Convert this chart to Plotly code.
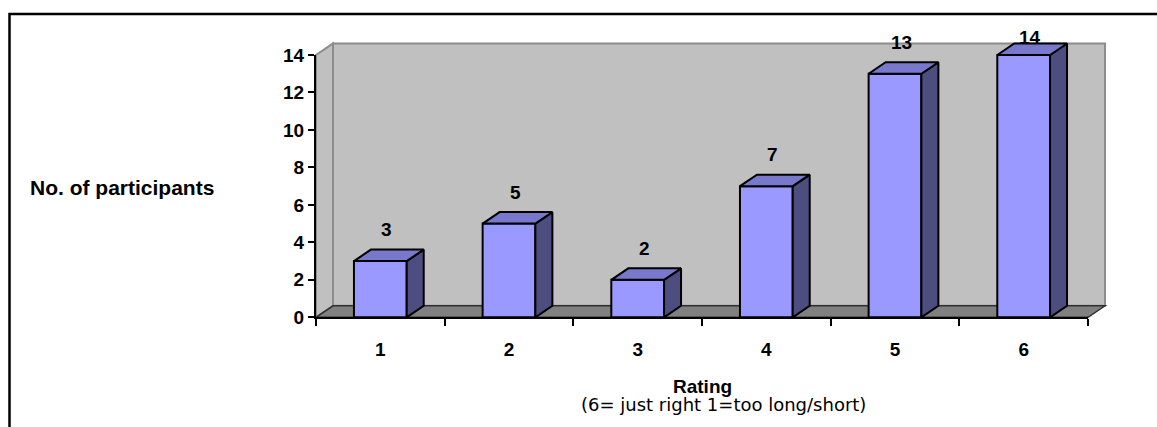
import plotly.graph_objects as go

# ---- data ----
ratings = ["1", "2", "3", "4", "5", "6"]
participants = [3, 5, 2, 7, 13, 14]
y_ticks = [0, 2, 4, 6, 8, 10, 12, 14]
y_max = 14

# ---- page geometry (pixels) ----
W, H = 1157, 427
LEFT, RIGHT = 316, 1088      # front edge of the floor
BASE, TOP = 317.3, 55        # value 0 and value y_max on the front axis
ux = (RIGHT - LEFT) / len(ratings)
uy = (BASE - TOP) / y_max
DX = 17 / ux                 # depth offset of the 3-D box, data units
DY = 11.5 / uy
BAR_W = 0.41

FRONT = "#9999FF"
TOPC = "#7878CC"
SIDE = "#4D4D80"
WALL = "#C0C0C0"
FLOOR = "#808080"
EDGE = "#8C8C8C"


def fx(px):
    return px / W


def fy(py):
    return (H - py) / H


# panel subplot: wide range so nothing touching the box is clipped
XA = [-0.4, 6.4]
YA = [-1.5, 16]
dom_xa = [fx(LEFT + XA[0] * ux), fx(LEFT + XA[1] * ux)]
dom_ya = [fy(BASE - YA[0] * uy), fy(BASE - YA[1] * uy)]

centers = [i + 0.5 for i in range(len(ratings))]

fig = go.Figure()

# front faces of the columns
fig.add_trace(go.Bar(
    x=centers, y=participants, width=BAR_W, base=0,
    marker=dict(color=FRONT, line=dict(color="black", width=2)),
    xaxis="x", yaxis="y", showlegend=False, hoverinfo="skip",
))

# side and top faces
for c, v in zip(centers, participants):
    l, r = c - BAR_W / 2, c + BAR_W / 2
    fig.add_trace(go.Scatter(
        x=[r, r + DX, r + DX, r, r], y=[0, DY, v + DY, v, 0],
        mode="lines", fill="toself", fillcolor=SIDE,
        line=dict(color="black", width=2),
        xaxis="x", yaxis="y", showlegend=False, hoverinfo="skip",
    ))
    fig.add_trace(go.Scatter(
        x=[l, r, r + DX, l + DX, l], y=[v, v, v + DY, v + DY, v],
        mode="lines", fill="toself", fillcolor=TOPC,
        line=dict(color="black", width=2),
        xaxis="x", yaxis="y", showlegend=False, hoverinfo="skip",
    ))

# axis frame subplot (front value and category axes)
fig.add_trace(go.Scatter(x=[], y=[], xaxis="x2", yaxis="y2",
                         showlegend=False, hoverinfo="skip"))

n = len(ratings)
shapes = [
    # back wall
    dict(type="path", xref="x", yref="y", layer="below",
         path=f"M {DX},{DY} L {n + DX},{DY} L {n + DX},{y_max + DY} L {DX},{y_max + DY} Z",
         fillcolor=WALL, line=dict(color=EDGE, width=2)),
    # side wall
    dict(type="path", xref="x", yref="y", layer="below",
         path=f"M 0,0 L 0,{y_max} L {DX},{y_max + DY} L {DX},{DY} Z",
         fillcolor=WALL, line=dict(color=EDGE, width=2)),
    # floor
    dict(type="path", xref="x", yref="y", layer="below",
         path=f"M 0,0 L {n},0 L {n + DX},{DY} L {DX},{DY} Z",
         fillcolor=FLOOR, line=dict(color="#303030", width=1.5)),
    # outer chart frame (open on the right and bottom)
    dict(type="path", xref="paper", yref="paper",
         path=f"M {fx(9.5)},0 L {fx(9.5)},{fy(14)} L 1,{fy(14)}",
         line=dict(color="black", width=2.5)),
]

FS = 19
bold = dict(family="Liberation Sans, Arial, sans-serif", size=FS,
            color="black", weight="bold")

annotations = []
label_cap = 14.95
for c, v in zip(centers, participants):
    annotations.append(dict(
        x=c + 0.05, y=min(v + DY + 20 / uy, label_cap), xref="x", yref="y",
        text=str(v), showarrow=False, font=bold,
        xanchor="center", yanchor="middle",
    ))

annotations += [
    dict(x=fx(28), y=fy(187), xref="paper", yref="paper",
         text="No. of participants", showarrow=False,
         font=dict(bold, size=21), xanchor="left", yanchor="middle"),
    dict(x=fx((LEFT + RIGHT) / 2), y=fy(386), xref="paper", yref="paper",
         text="Rating", showarrow=False, font=dict(bold, size=19),
         xanchor="center", yanchor="middle"),
    dict(x=fx(723), y=fy(404), xref="paper", yref="paper",
         text="(6= just right 1=too long/short)", showarrow=False,
         font=dict(family="DejaVu Sans, Verdana, sans-serif", size=18,
                   color="black"),
         xanchor="center", yanchor="middle"),
]

fig.update_layout(
    width=W, height=H, autosize=False,
    margin=dict(l=0, r=0, t=0, b=0, pad=0, autoexpand=False),
    paper_bgcolor="white", plot_bgcolor="rgba(0,0,0,0)",
    showlegend=False,
    shapes=shapes, annotations=annotations,
    xaxis=dict(domain=dom_xa, range=XA, visible=False, fixedrange=True),
    yaxis=dict(domain=dom_ya, range=YA, visible=False, fixedrange=True),
    xaxis2=dict(
        domain=[fx(LEFT), fx(RIGHT)], range=[0, n], anchor="y2",
        showline=True, linecolor="black", linewidth=2,
        tickmode="array", tickvals=centers, ticktext=ratings, ticks="",
        minor=dict(tickmode="array", tickvals=list(range(n + 1)),
                   ticks="outside", ticklen=7, tickwidth=2,
                   tickcolor="black", showgrid=False),
        ticklabelstandoff=14,
        showgrid=False, zeroline=False, tickfont=bold, fixedrange=True,
        automargin=False,
    ),
    yaxis2=dict(
        domain=[fy(BASE), fy(TOP)], range=[0, y_max], anchor="x2",
        showline=True, linecolor="black", linewidth=2,
        tickmode="array", tickvals=y_ticks, ticks="outside",
        ticklen=6, tickwidth=2, tickcolor="black",
        showgrid=False, zeroline=False, tickfont=bold, fixedrange=True,
        automargin=False,
    ),
)

# the page itself carries no body margin, so the figure fills the window
fig.write_html(
    "out.html",
    config={"responsive": False, "displayModeBar": False},
    post_script="document.body.style.margin='0';"
                "document.documentElement.style.overflow='hidden';",
)
